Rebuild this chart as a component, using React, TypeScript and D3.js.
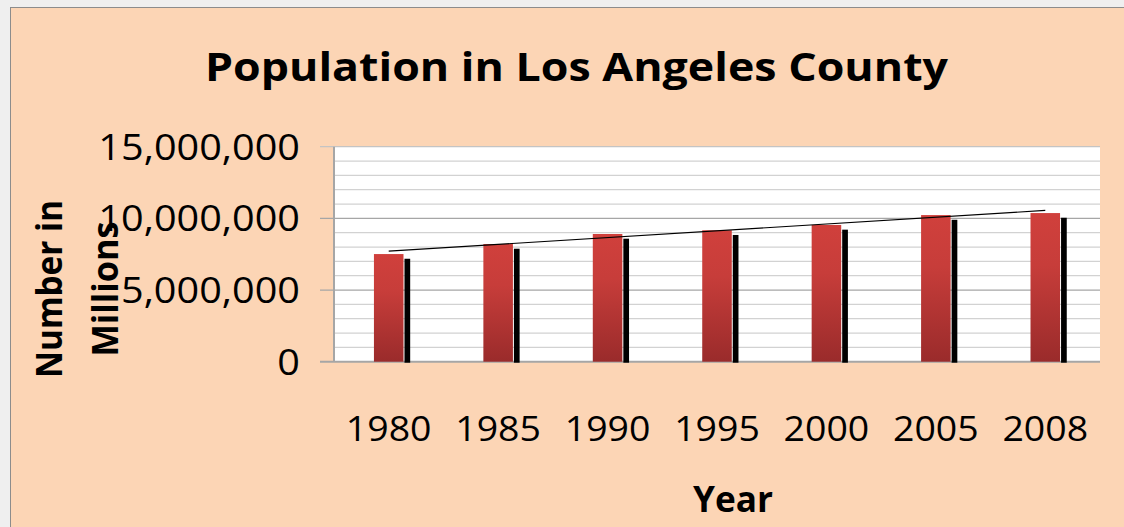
import { useEffect, useRef } from "react";
import * as d3 from "d3";

const years = ["1980", "1985", "1990", "1995", "2000", "2005", "2008"];
const population = [7510000, 8210000, 8910000, 9170000, 9540000, 10230000, 10370000];
const yTicks = [0, 5000000, 10000000, 15000000];
const chartTitle = "Population in Los Angeles County";
const xTitle = "Year";
const yTitleLines = ["Number in", "Millions"];

const width = 1124;
const height = 527;
const font = "'Open Sans', Calibri, sans-serif";

const App = () => {
  const ref = useRef<SVGSVGElement>(null);

  useEffect(() => {
    const svg = d3.select(ref.current);
    svg.selectAll("*").remove();

    // plot area
    const left = 334;
    const right = 1100;
    const top = 146.7;
    const bottom = 361.7;

    const x = d3
      .scaleBand<string>()
      .domain(years)
      .range([left, right])
      .paddingInner(0.73)
      .paddingOuter(0.365);
    const y = d3.scaleLinear().domain([0, 15000000]).range([bottom, top]);

    // page + chart background
    svg.append("rect").attr("width", width).attr("height", height).attr("fill", "#efefef");
    svg
      .append("rect")
      .attr("x", 10.5)
      .attr("y", 7.5)
      .attr("width", width)
      .attr("height", height)
      .attr("fill", "#FCD5B5")
      .attr("stroke", "#8c8c8c")
      .attr("stroke-width", 1);

    const defs = svg.append("defs");
    const grad = defs
      .append("linearGradient")
      .attr("id", "barGrad")
      .attr("x1", 0)
      .attr("y1", 0)
      .attr("x2", 0)
      .attr("y2", 1);
    grad.append("stop").attr("offset", "0%").attr("stop-color", "#d0403c");
    grad.append("stop").attr("offset", "35%").attr("stop-color", "#c73d3a");
    grad.append("stop").attr("offset", "100%").attr("stop-color", "#9a2b2b");

    svg
      .append("rect")
      .attr("x", left)
      .attr("y", top)
      .attr("width", right - left)
      .attr("height", bottom - top)
      .attr("fill", "#ffffff");

    // minor grid every 1M, major every 5M
    const minor = d3.range(1000000, 15000001, 1000000).filter((v) => v % 5000000 !== 0);
    svg
      .append("g")
      .selectAll("line")
      .data(minor)
      .enter()
      .append("line")
      .attr("x1", left)
      .attr("x2", right)
      .attr("y1", (d) => y(d))
      .attr("y2", (d) => y(d))
      .attr("stroke", "#d2d2d2")
      .attr("stroke-width", 1.3);

    svg
      .append("g")
      .selectAll("line")
      .data(yTicks.filter((d) => d > 0))
      .enter()
      .append("line")
      .attr("x1", 320)
      .attr("x2", right)
      .attr("y1", (d) => y(d))
      .attr("y2", (d) => y(d))
      .attr("stroke", (d) => (d === 15000000 ? "#c4c4c4" : "#a6a6a6"))
      .attr("stroke-width", 1.3);

    // axis lines
    svg
      .append("line")
      .attr("x1", left)
      .attr("x2", left)
      .attr("y1", top)
      .attr("y2", bottom)
      .attr("stroke", "#a6a6a6")
      .attr("stroke-width", 2);
    svg
      .append("line")
      .attr("x1", 320)
      .attr("x2", right)
      .attr("y1", bottom)
      .attr("y2", bottom)
      .attr("stroke", "#a6a6a6")
      .attr("stroke-width", 2);

    // shadows
    svg
      .append("g")
      .selectAll("rect")
      .data(population)
      .enter()
      .append("rect")
      .attr("x", (_, i) => x(years[i])! + x.bandwidth() + 1)
      .attr("y", (d) => y(d) + 4.7)
      .attr("width", 5.7)
      .attr("height", (d) => bottom + 1 - y(d) - 4.7)
      .attr("fill", "#000000");

    // bars
    svg
      .append("g")
      .selectAll("rect")
      .data(population)
      .enter()
      .append("rect")
      .attr("x", (_, i) => x(years[i])!)
      .attr("y", (d) => y(d))
      .attr("width", x.bandwidth())
      .attr("height", (d) => bottom - y(d))
      .attr("fill", "url(#barGrad)");

    // linear trendline (least squares over category index)
    const n = population.length;
    const mx = (n - 1) / 2;
    const my = d3.mean(population)!;
    const slope =
      d3.sum(population, (v, i) => (i - mx) * (v - my)) /
      d3.sum(population, (_, i) => (i - mx) * (i - mx));
    const icpt = my - slope * mx;
    const trend = [0, n - 1].map((i) => ({ i, v: icpt + slope * i }));
    const line = d3
      .line<{ i: number; v: number }>()
      .x((d) => x(years[d.i])! + x.bandwidth() / 2)
      .y((d) => y(d.v));
    svg
      .append("path")
      .datum(trend)
      .attr("fill", "none")
      .attr("stroke", "#000000")
      .attr("stroke-width", 1.2)
      .attr("d", line);

    // stretch helper, the reference text is wide
    const stretch = (sel: d3.Selection<SVGTextElement, any, any, any>, k: number) => {
      sel.each(function () {
        const w = this.getComputedTextLength();
        d3.select(this).attr("textLength", w * k).attr("lengthAdjust", "spacingAndGlyphs");
      });
    };

    // y tick labels
    const yLab = svg
      .append("g")
      .selectAll("text")
      .data(yTicks)
      .enter()
      .append("text")
      .attr("x", 300)
      .attr("y", (d) => y(d) + 13)
      .attr("text-anchor", "end")
      .attr("font-family", font)
      .attr("font-size", 36)
      .attr("fill", "#000")
      .text((d) => d3.format(",")(d));
    stretch(yLab as any, 1.1);

    // x tick labels
    const xLab = svg
      .append("g")
      .selectAll("text")
      .data(years)
      .enter()
      .append("text")
      .attr("x", (d) => x(d)! + x.bandwidth() / 2)
      .attr("y", 441)
      .attr("text-anchor", "middle")
      .attr("font-family", font)
      .attr("font-size", 35)
      .attr("fill", "#000")
      .text((d) => d);
    stretch(xLab as any, 1.07);

    // titles
    svg
      .append("text")
      .attr("x", 576.5)
      .attr("y", 81)
      .attr("text-anchor", "middle")
      .attr("font-family", font)
      .attr("font-weight", "bold")
      .attr("font-size", 39)
      .attr("textLength", 743)
      .attr("lengthAdjust", "spacingAndGlyphs")
      .text(chartTitle);

    svg
      .append("text")
      .attr("x", 733)
      .attr("y", 511.5)
      .attr("text-anchor", "middle")
      .attr("font-family", font)
      .attr("font-weight", "bold")
      .attr("font-size", 36)
      .attr("textLength", 80)
      .attr("lengthAdjust", "spacingAndGlyphs")
      .text(xTitle);

    const yTitleX = [61.7, 118.3];
    const yTitleLen = [178, 135];
    yTitleLines.forEach((t, i) => {
      svg
        .append("text")
        .attr("transform", `translate(${yTitleX[i]},289) rotate(-90)`)
        .attr("text-anchor", "middle")
        .attr("font-family", font)
        .attr("font-weight", "bold")
        .attr("font-size", 36)
        .attr("textLength", yTitleLen[i])
        .attr("lengthAdjust", "spacingAndGlyphs")
        .text(t);
    });
  }, []);

  return (
    <svg
      ref={ref}
      width={width}
      height={height}
      style={{ position: "absolute", left: 0, top: 0, display: "block" }}
    />
  );
};

export default App;
